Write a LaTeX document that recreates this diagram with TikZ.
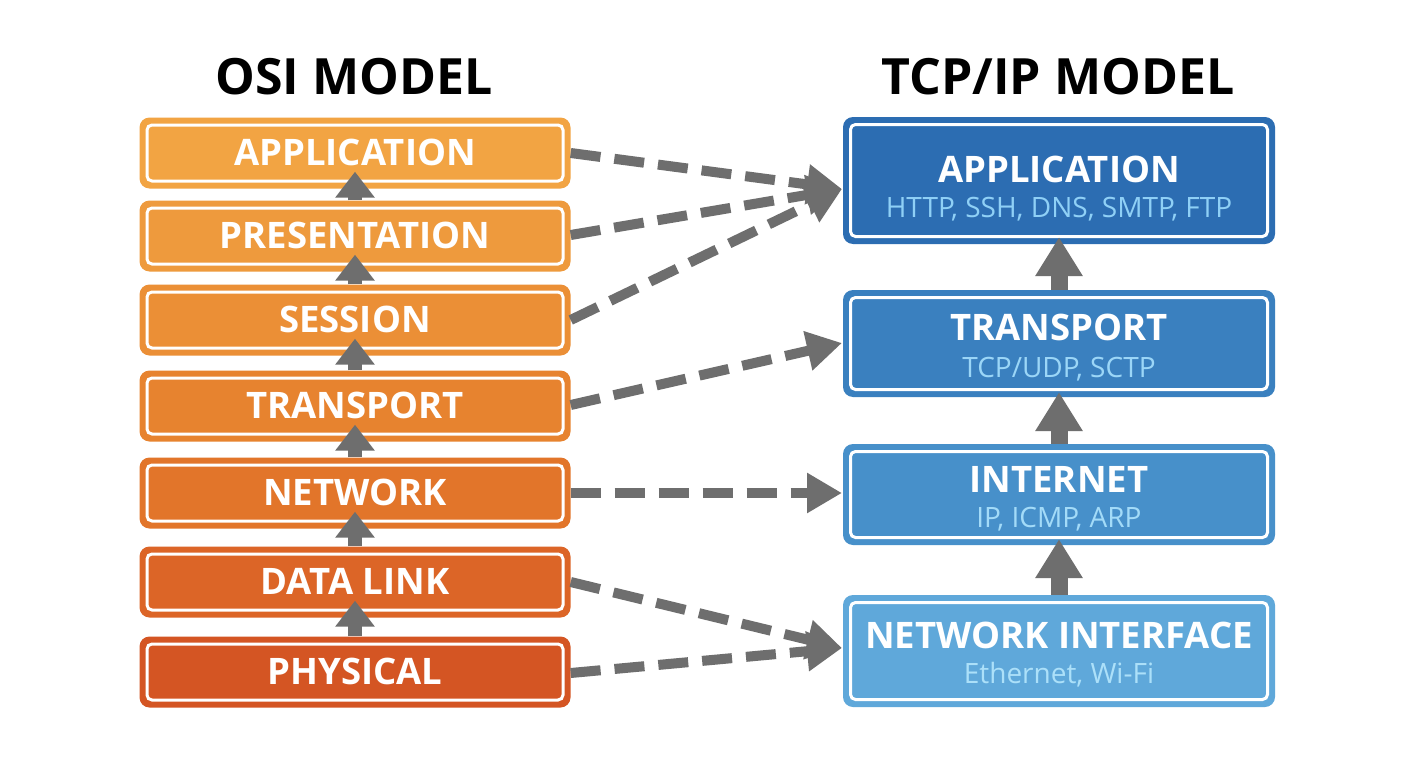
\documentclass[tikz,border=0pt]{standalone}
\usepackage{fontspec}
\setmainfont{Open Sans}
\usetikzlibrary{arrows.meta,calc}
\definecolor{arrowgray}{HTML}{6E6E6E}
\definecolor{oA}{HTML}{F2A443}
\definecolor{oB}{HTML}{EE9A3D}
\definecolor{oC}{HTML}{EB8F36}
\definecolor{oD}{HTML}{E7832F}
\definecolor{oE}{HTML}{E2752A}
\definecolor{oF}{HTML}{DC6527}
\definecolor{oG}{HTML}{D45523}
\definecolor{tA}{HTML}{2C6DB2}
\definecolor{tB}{HTML}{3A80BF}
\definecolor{tC}{HTML}{4790CA}
\definecolor{tD}{HTML}{5FA8DA}
\definecolor{subA}{HTML}{8FD0F6}
\definecolor{subB}{HTML}{9BD6F7}
\definecolor{subC}{HTML}{A3DBF8}
\definecolor{subD}{HTML}{ACE0F9}
\tikzset{
  layerbox/.style={draw=none, rounded corners=10pt, inner sep=0pt,
    path picture={\draw[white, line width=3pt, rounded corners=5pt]
      ([shift={(7.5pt,-7.5pt)}]path picture bounding box.north west) rectangle
      ([shift={(-7.5pt,7.5pt)}]path picture bounding box.south east);}},
  osibox/.style={layerbox, minimum width=431pt, minimum height=71pt},
  tcpbox/.style={layerbox, minimum width=432pt},
  osilabel/.style={text=white, font=\fontsize{36.5}{38}\selectfont\bfseries, text height=25pt, text depth=0pt, inner sep=0pt},
  tcptitle/.style={text=white, font=\fontsize{36.5}{38}\selectfont\bfseries, inner sep=0pt, anchor=base},
  tcpsub/.style={font=\fontsize{28}{30}\selectfont, inner sep=0pt, anchor=base},
  headline/.style={text=black, font=\fontsize{50}{52}\selectfont\bfseries, inner sep=0pt, anchor=base},
  maparrow/.style={draw=arrowgray, line width=10pt, dash pattern=on 30pt off 14pt,
    -{Triangle[length=35pt,width=38pt]}},
  osiup/.style={draw=arrowgray, line width=14pt, -{Triangle[length=26pt,width=38pt]}},
  tcpup/.style={draw=arrowgray, line width=17pt, -{Triangle[length=39pt,width=45pt]}}
}
\begin{document}
\begin{tikzpicture}[x=1pt,y=-1pt]
\useasboundingbox[fill=white] (0,0) rectangle (1408,768);

% headlines
\node[headline] (osititle) at (354,95) {OSI MODEL};
\node[headline] (tcptitle) at (1058,95) {TCP/IP MODEL};

% OSI layers
\node[osibox, fill=oA] (o7) at (355,153) {};
\node[osibox, fill=oB] (o6) at (355,236) {};
\node[osibox, fill=oC] (o5) at (355,320) {};
\node[osibox, fill=oD] (o4) at (355,406) {};
\node[osibox, fill=oE] (o3) at (355,493) {};
\node[osibox, fill=oF] (o2) at (355,582) {};
\node[osibox, fill=oG] (o1) at (355,672) {};

% TCP/IP layers
\node[tcpbox, fill=tA, minimum height=127pt] (t4) at (1059,180.5) {};
\node[tcpbox, fill=tB, minimum height=107pt] (t3) at (1059,343.5) {};
\node[tcpbox, fill=tC, minimum height=101pt] (t2) at (1059,494.5) {};
\node[tcpbox, fill=tD, minimum height=112pt] (t1) at (1059,651) {};

% OSI up arrows
\foreach \lo/\hi in {o1/o2,o2/o3,o3/o4,o4/o5,o5/o6,o6/o7}{
  \draw[osiup] (\lo.north) -- ($(\hi.south)+(0,-17)$);
}
% TCP up arrows
\draw[tcpup] (t3.north) -- ($(t4.south)+(0,-7)$);
\draw[tcpup] (t2.north) -- ($(t3.south)+(0,-5)$);
\draw[tcpup] (t1.north) -- ($(t2.south)+(0,-6)$);

% OSI labels
\node[osilabel] (l7) at (o7) {APPLICATION};
\node[osilabel] (l6) at (o6) {PRESENTATION};
\node[osilabel] (l5) at (o5) {SESSION};
\node[osilabel] (l4) at (o4) {TRANSPORT};
\node[osilabel] (l3) at (o3) {NETWORK};
\node[osilabel] (l2) at (o2) {DATA LINK};
\node[osilabel] (l1) at (o1) {PHYSICAL};

% TCP labels
\node[tcptitle] (n4) at (1059,182) {APPLICATION};
\node[tcpsub, text=subA] (s4) at (1059,217) {HTTP, SSH, DNS, SMTP, FTP};
\node[tcptitle] (n3) at (1059,340) {TRANSPORT};
\node[tcpsub, text=subB] (s3) at (1059,377) {TCP/UDP, SCTP};
\node[tcptitle] (n2) at (1059,492) {INTERNET};
\node[tcpsub, text=subC] (s2) at (1059,527) {IP, ICMP, ARP};
\node[tcptitle] (n1) at (1059,648) {NETWORK INTERFACE};
\node[tcpsub, text=subD] (s1) at (1059,683) {Ethernet, Wi-Fi};

% mapping targets
\coordinate (ta) at (842,189);
\coordinate (tt) at (842,343);
\coordinate (tn) at (842,493);
\coordinate (ti) at (842,648);

% mapping arrows
\draw[maparrow] (o7.east |- 0,153) -- (ta);
\draw[maparrow] (o6.east |- 0,235) -- (ta);
\draw[maparrow] (o5.east |- 0,320) -- (ta);
\draw[maparrow] (o4.east |- 0,405) -- (tt);
\draw[maparrow] (o3.east) -- (tn);
\draw[maparrow] (o2.east) -- (ti);
\draw[maparrow] (o1.east |- 0,673) -- (ti);
\end{tikzpicture}
\end{document}
